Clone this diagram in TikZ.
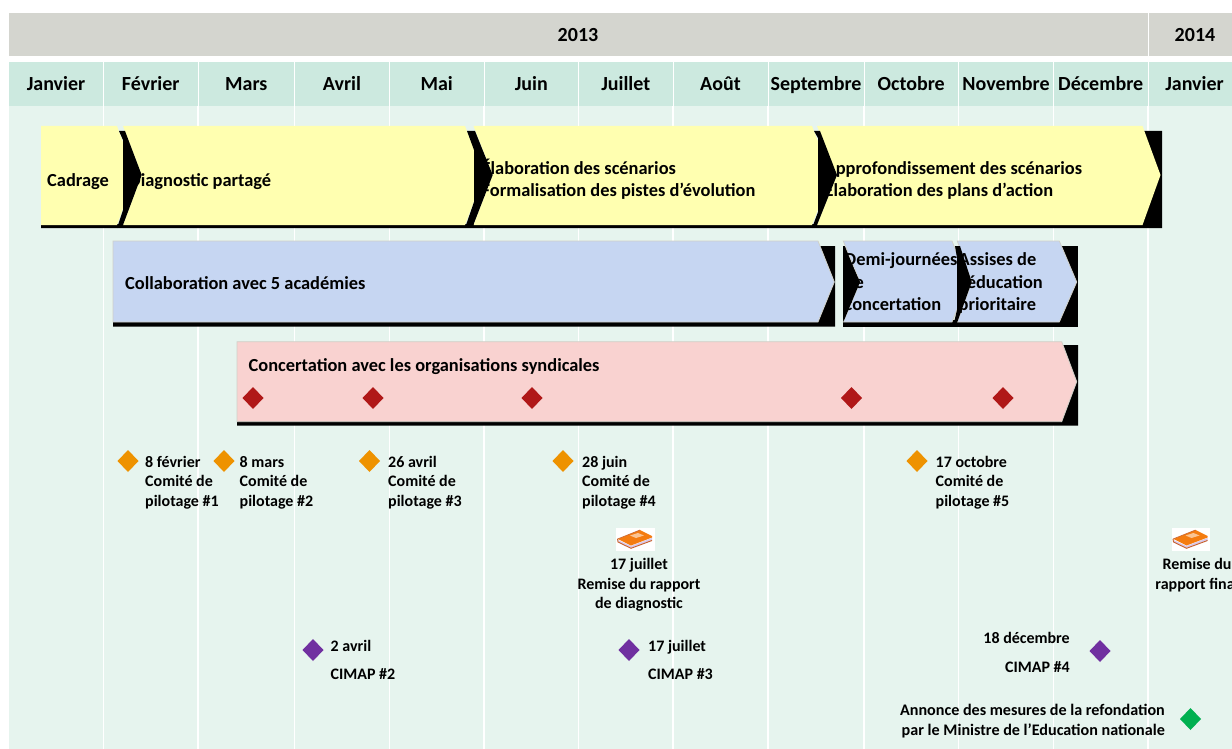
\documentclass[tikz,border=0pt]{standalone}
\usepackage{fontspec}
\setmainfont{Carlito}[BoldFont={Carlito Bold}]
\definecolor{yearc}{HTML}{D4D5CF}
\definecolor{monthc}{HTML}{CCE9DF}
\definecolor{bodyc}{HTML}{E6F4EE}
\definecolor{yellowc}{HTML}{FFFFB0}
\definecolor{bluec}{HTML}{C6D6F2}
\definecolor{pinkc}{HTML}{F9D2D0}
\definecolor{edgec}{HTML}{D0D0C8}
\definecolor{redd}{HTML}{B01818}
\definecolor{orangd}{HTML}{EE9200}
\definecolor{purpd}{HTML}{7030A0}
\definecolor{greend}{HTML}{00B050}
\definecolor{bookc}{HTML}{F47C10}
\definecolor{bookd}{HTML}{C8602A}
\definecolor{bookp}{HTML}{D8C8E8}
\tikzset{
  yearbox/.style={fill=yearc,draw=none},
  monthbox/.style={fill=monthc,draw=none},
  gridl/.style={white,line width=1.6pt},
  yearlbl/.style={font=\fontsize{20}{22}\selectfont\bfseries,inner sep=0pt,anchor=base},
  monthlbl/.style={font=\fontsize{20}{22}\selectfont\bfseries,inner sep=0pt,anchor=base},
  barlbl/.style={font=\fontsize{18.4}{22}\selectfont\bfseries,inner sep=0pt,anchor=north west,align=left},
  smalllbl/.style={font=\fontsize{16}{19.6}\selectfont\bfseries,inner sep=0pt,anchor=north west,align=left},
  smallc/.style={font=\fontsize{16}{19.6}\selectfont\bfseries,inner sep=0pt,anchor=north,align=center},
  smallr/.style={font=\fontsize{16}{19.6}\selectfont\bfseries,inner sep=0pt,anchor=north east,align=right},
}
\newcommand{\dia}[4]{\fill[#1] (#2-#4,#3) -- (#2,#3-#4-0.5) -- (#2+#4,#3) -- (#2,#3+#4+0.5) -- cycle;}
\newcommand{\booksym}[2]{%
  \begin{scope}[shift={(#1,#2)}]
    \fill[white] (0,0) rectangle (38.5,23);
    \fill[bookp] (2,12) -- (15,18) -- (36,10) -- (36,12.5) -- (15,20) -- (3,14.5) -- cycle;
    \fill[bookc] (2,11) -- (24,2) -- (36,8) -- (36,9.5) -- (15,17.5) -- cycle;
    \fill[white!55!bookc] (14,7.5) -- (22,5) -- (28,7.5) -- (20,10) -- cycle;
    \draw[bookd,line width=0.9pt] (1.5,11) -- (2,14) -- (15,20.3) -- (36,12.5);
    \draw[bookd,line width=0.6pt] (1.5,11) -- (24,2);
  \end{scope}}
\begin{document}
\begin{tikzpicture}[x=1pt,y=-1pt]
\useasboundingbox (0,0) rectangle (1232,749);
\clip (0,0) rectangle (1232,749);
\fill[white] (0,0) rectangle (1232,749);
% body
\fill[bodyc] (9,106) rectangle (1232,749);
\foreach \x in {103.5,198,294.5,389.5,484,578.5,673,768,864,958.5,1053.5,1148}
  \draw[gridl] (\x,106) -- (\x,749);
% years
\fill[yearbox] (9,13) rectangle (1147.5,56);
\fill[yearbox] (1149,13) rectangle (1232,56);
\node[yearlbl] (y13) at (578,42) {2013};
\node[yearlbl] (y14) at (1195,42) {2014};
% months
\foreach \a/\b/\n/\t in {9/103/jan/Janvier,104/197.5/fev/Février,198.5/294/mar/Mars,295/389/avr/Avril,390/483.5/mai/Mai,484.5/578/jun/Juin,579/672.5/jul/Juillet,673.5/767.5/aou/Août,768.5/863.5/sep/Septembre,864.5/958/oct/Octobre,959/1053/nov/Novembre,1054/1147.5/dec/Décembre}{
  \fill[monthbox] (\a,62) rectangle (\b,106);
  \node[monthlbl] (m\n) at ({(\a+\b)/2},90.8) {\t};
}
\fill[monthbox] (1148.5,62) rectangle (1232,106);
\node[monthlbl] (mjab) at (1194.5,90.8) {Janvier};
% yellow row
\fill[black] (1140,131) -- (1162,131) -- (1162,228) -- (41,228) -- (41,224) -- (1140,224) -- cycle;
\fill[yellowc] (41,126) -- (117,126) -- (135,175) -- (117,225) -- (41,225) -- cycle;
\fill[yellowc] (123,126) -- (465,126) -- (484,175) -- (465,225) -- (123,225) -- (141.7,175) -- cycle;
\fill[yellowc] (473.5,126) -- (812,126) -- (831,175) -- (812,225) -- (473.5,225) -- (492.7,175) -- cycle;
\fill[yellowc] (817,126) -- (1142.5,126) -- (1160.5,175) -- (1142.5,225) -- (817,225) -- (837,175) -- cycle;
\node[barlbl] (t1) at (47,173) {Cadrage};
\node[barlbl] (t2) at (129,173) {Diagnostic partagé};
\node[barlbl] (t3) at (481.5,159.3) {Élaboration des scénarios\\Formalisation des pistes d’évolution};
\node[barlbl] (t4) at (824.5,161) {Approfondissement des scénarios\\Élaboration des plans d’action};
\fill[black] (119,131) -- (125,131) -- (141.7,175) -- (123,225) -- (117,228) -- (123,210) -- (123,140) -- cycle;
\fill[black] (467,131) -- (475,131) -- (492.7,175) -- (473.3,225) -- (465,228) -- (474,202) -- (474,150) -- cycle;
\fill[black] (814,131) -- (820,131) -- (837,175) -- (817,225) -- (812,228) -- (818,212) -- (818,138) -- cycle;
% blue row
\fill[black] (815,246) -- (835,246) -- (835,326.7) -- (113,326.7) -- (113,320) -- (815,320) -- cycle;
\fill[black] (843.3,246) -- (870,246) -- (870,326.7) -- (843.3,326.7) -- cycle;
\fill[black] (860,320) rectangle (1077.7,326.7);
\fill[black] (1055,246) -- (1077.7,246) -- (1077.7,326.7) -- (1055,326.7) -- cycle;
\draw[fill=bluec,draw=edgec,line width=0.8pt] (113,241) -- (818,241) -- (834.3,282) -- (818,322) -- (113,322) -- cycle;
\draw[fill=bluec,draw=edgec,line width=0.8pt] (843.3,241) -- (952,241) -- (968,282) -- (952,322) -- (843.3,322) -- (860,282) -- cycle;
\draw[fill=bluec,draw=edgec,line width=0.8pt] (957.3,241) -- (1059.3,241) -- (1076.7,282) -- (1059.3,322) -- (957.3,322) -- (971.7,282) -- cycle;
\node[barlbl] (t5) at (125,276) {Collaboration avec 5 académies};
\node[barlbl,font=\fontsize{18.4}{22.5}\selectfont\bfseries] (t6) at (844.5,252.8) {Demi-journées\\de\\concertation};
\node[barlbl,font=\fontsize{18.4}{22.5}\selectfont\bfseries] (t7) at (958.5,252.8) {Assises de\\l’éducation\\prioritaire};
\fill[black] (843.3,246) -- (860,282) -- (843.3,322) -- cycle;
\fill[black] (955,246) -- (960,246) -- (971.7,282) -- (957.3,322) -- (953,326.7) -- (957,310) -- (957,258) -- cycle;
% pink row
\fill[black] (1058,345) -- (1078,345) -- (1078,425.7) -- (237,425.7) -- (237,420) -- (1058,420) -- cycle;
\draw[fill=pinkc,draw=edgec,line width=0.8pt] (237,341.7) -- (1061.7,341.7) -- (1076.7,381.7) -- (1061.7,421.7) -- (237,421.7) -- cycle;
\node[barlbl] (t8) at (248.5,358) {Concertation avec les organisations syndicales};
\foreach \x in {253,373,532,851.5,1003} { \dia{redd}{\x}{398}{10.5} }
% orange
\foreach \x in {128,224,369.5,563,917} { \dia{orangd}{\x}{461}{10.5} }
\node[smalllbl] (c1) at (145,455.7) {8 février\\Comité de\\pilotage \#1};
\node[smalllbl] (c2) at (239.5,455.7) {\vphantom{f}8 mars\\Comité de\\pilotage \#2};
\node[smalllbl] (c3) at (388,455.7) {\vphantom{f}26 avril\\Comité de\\pilotage \#3};
\node[smalllbl] (c4) at (582,455.7) {\vphantom{f}28 juin\\Comité de\\pilotage \#4};
\node[smalllbl] (c5) at (935.5,455.7) {\vphantom{f}17 octobre\\Comité de\\pilotage \#5};
% books
\booksym{616}{528}
\booksym{1171.5}{528}
\node[smallc] (r1) at (639,558.3) {17 juillet\\Remise du rapport\\de diagnostic};
\node[smallc] (r2) at (1197,558.3) {Remise du\\rapport final};
% purple
\dia{purpd}{313}{650}{10.5}
\dia{purpd}{629}{650}{10.5}
\dia{purpd}{1100}{651}{10.5}
\node[smalllbl] (p1) at (330.5,640.3) {2 avril};
\node[smalllbl] (p2) at (330.5,668.3) {CIMAP \#2};
\node[smalllbl] (p3) at (648,640.3) {17 juillet};
\node[smalllbl] (p4) at (648,668.3) {CIMAP \#3};
\node[smallr] (p5) at (1070,632.3) {18 décembre};
\node[smallr] (p6) at (1070,661.3) {CIMAP \#4};
\dia{greend}{1190.5}{719}{10.5}
\node[smallr,font=\fontsize{16.12}{19.6}\selectfont\bfseries] (a1) at (1165,704.3) {Annonce des mesures de la refondation\\par le Ministre de l’Education nationale};
\end{tikzpicture}
\end{document}
